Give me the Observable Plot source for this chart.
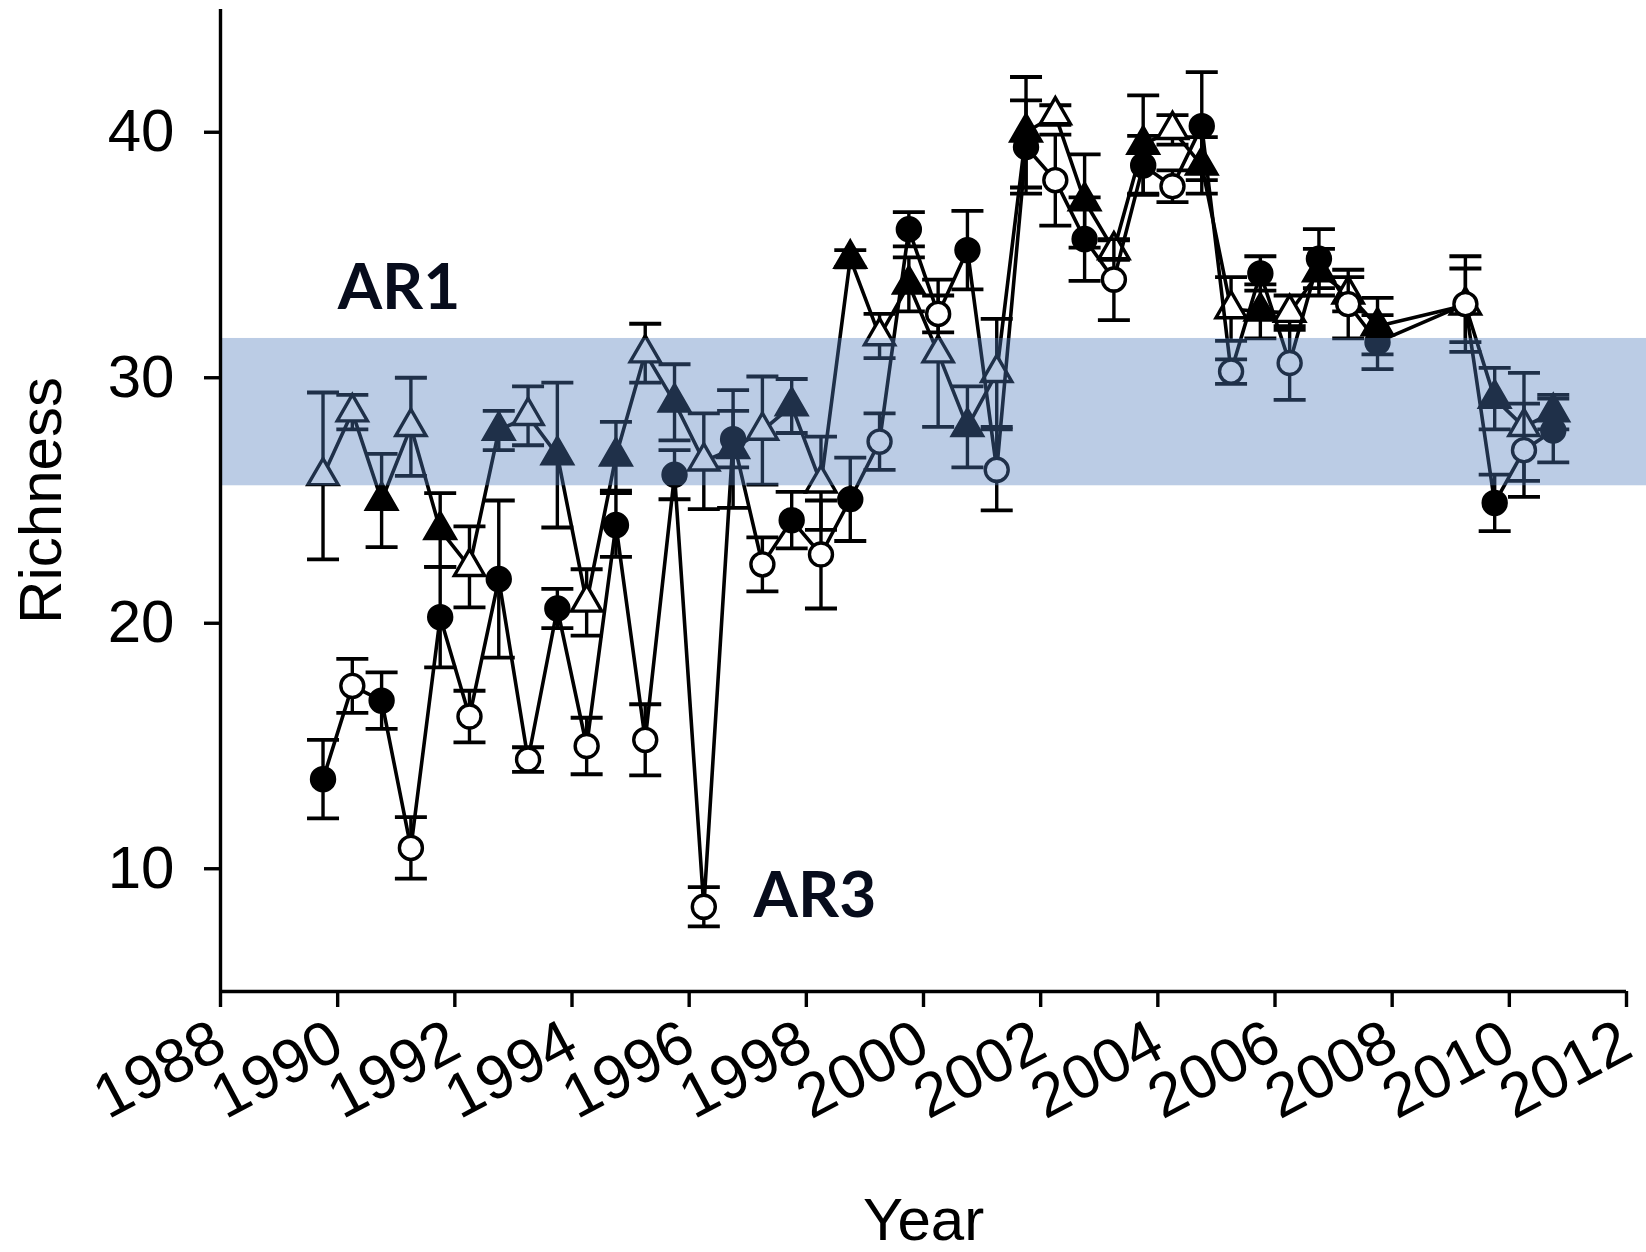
<!DOCTYPE html>
<html><head><meta charset="utf-8">
<script src="https://cdn.jsdelivr.net/npm/d3@7"></script>
<script src="https://cdn.jsdelivr.net/npm/@observablehq/plot@0.6"></script>
<style>html,body{margin:0;padding:0;background:#fff;} #chart svg{display:block}</style>
</head><body><div id="chart"></div>
<script>
// ---- data ----
const xTicks = [1988,1990,1992,1994,1996,1998,2000,2002,2004,2006,2008,2010,2012];
const yTicks = [10,20,30,40];

const sampleYear = [1989.75,1990.25,1990.75,1991.25,1991.75,1992.25,1992.75,1993.25,1993.75,1994.25,1994.75,1995.25,1995.75,1996.25,1996.75,1997.25,1997.75,1998.25,1998.75,1999.25,1999.75,2000.25,2000.75,2001.25,2001.75,2002.25,2002.75,2003.25,2003.75,2004.25,2004.75,2005.25,2005.75,2006.25,2006.75,2007.25,2007.75,2009.25,2009.75,2010.25,2010.75];

const ar3Mean = [13.65,17.45,16.85,10.85,20.25,16.2,21.8,14.45,20.6,15.0,24.0,15.25,26.05,8.45,27.5,22.4,24.2,22.8,25.05,27.4,36.05,32.6,35.2,26.25,39.4,38.05,35.65,34.0,38.65,37.8,40.25,30.25,34.25,30.6,34.85,33.0,31.45,33.0,24.9,27.05,27.85];
const ar3Err  = [1.6,1.1,1.15,1.25,2.05,1.05,3.2,0.5,0.8,1.15,1.3,1.45,1.0,0.8,1.15,1.1,1.15,2.2,1.7,1.15,0.7,0.75,1.6,1.65,1.9,1.85,1.7,1.65,1.2,0.65,2.2,0.5,0.7,1.5,1.2,1.4,1.1,1.95,1.15,1.9,1.3];
const ar3Filled = [1,0,1,0,1,0,1,0,1,0,1,0,1,0,1,0,1,0,1,0,1,0,1,0,1,0,1,0,1,0,1,0,1,0,1,0,1,0,1,0,1];

const ar1Mean = [26.0,28.6,25.0,28.0,23.8,22.3,27.85,28.45,26.85,20.85,26.8,31.0,29.0,26.6,27.1,27.85,28.85,25.7,34.85,31.7,33.8,31.0,28.0,30.2,40.0,40.7,37.2,35.2,39.5,40.1,38.65,32.8,32.7,32.65,34.3,33.4,32.1,32.95,29.15,28.0,28.6];
const ar1Err  = [3.4,0.7,1.9,2.0,1.5,1.65,0.8,1.2,2.95,1.35,1.4,1.2,1.55,1.95,2.4,2.2,1.1,1.9,0.35,0.9,1.1,3.0,1.65,2.2,2.25,0.4,1.9,0.4,2.0,0.6,1.15,1.3,1.1,0.7,0.95,0.7,1.15,1.5,1.25,2.2,0.7];
const ar1Filled = [0,0,1,0,1,0,1,0,1,0,1,0,1,0,1,0,1,0,1,0,1,0,1,0,1,0,1,0,1,0,1,0,1,0,1,0,1,0,1,0,1];

const bandLow = 25.6, bandHigh = 31.6;

const labelText = ["AR1", "AR3"];
const labelYear = [1990.0, 1997.1];
const labelRichness = [32.8, 8.05];

// ---- build ----
const ar1 = sampleYear.map((x, i) => ({x, v: ar1Mean[i], e: ar1Err[i], f: ar1Filled[i] === 1}));
const ar3 = sampleYear.map((x, i) => ({x, v: ar3Mean[i], e: ar3Err[i], f: ar3Filled[i] === 1}));
const labels = labelText.map((t, i) => ({t, x: labelYear[i], y: labelRichness[i]}));

const capSymbol = {draw(ctx, size) { const w = Math.sqrt(size / Math.PI); ctx.moveTo(-w, 0); ctx.lineTo(w, 0); }};

function seriesMarks(data, sym, r) {
  return [
    Plot.line(data, {x: "x", y: "v", stroke: "black", strokeWidth: 3.6, curve: "linear"}),
    Plot.ruleX(data, {x: "x", y1: d => d.v - d.e, y2: d => d.v + d.e, stroke: "black", strokeWidth: 3.4}),
    Plot.dot(data, {x: "x", y: d => d.v + d.e, symbol: capSymbol, r: 16, stroke: "black", strokeWidth: 3.8}),
    Plot.dot(data, {x: "x", y: d => d.v - d.e, symbol: capSymbol, r: 16, stroke: "black", strokeWidth: 3.8}),
    Plot.dot(data.filter(d => !d.f), {x: "x", y: "v", symbol: sym, r, fill: "white", stroke: "black", strokeWidth: 3.4}),
    Plot.dot(data.filter(d => d.f), {x: "x", y: "v", symbol: sym, r, fill: "black", stroke: "black", strokeWidth: 3.4})
  ];
}

const chart = Plot.plot({
  width: 1646,
  height: 1252,
  marginLeft: 220,
  marginRight: 20,
  marginTop: 9,
  marginBottom: 261,
  style: {fontFamily: "'Liberation Sans', Arial, sans-serif", fontSize: "58px", color: "black", background: "white"},
  x: {domain: [1988, 2012]},
  y: {domain: [5, 45]},
  marks: [
    ...seriesMarks(ar1, "triangle", 11.2),
    ...seriesMarks(ar3, "circle", 11.5),
    Plot.rect([{x1: 1988, x2: 2012.4, y1: bandLow, y2: bandHigh}], {x1: "x1", x2: "x2", y1: "y1", y2: "y2", fill: "rgb(80,124,188)", fillOpacity: 0.39}),
    Plot.ruleX([1988], {stroke: "black", strokeWidth: 3.4}),
    Plot.ruleY([5], {stroke: "black", strokeWidth: 3.4}),
    Plot.axisX({ticks: xTicks, tickFormat: "d", tickSize: 16, tickPadding: 30, tickRotate: -28, fontSize: 62, strokeWidth: 3.4, label: null}),
    Plot.axisY({ticks: yTicks, tickFormat: "d", tickSize: 16, tickPadding: 30, fontSize: 60, strokeWidth: 3.4, label: null}),
    Plot.text(labels, {x: "x", y: "y", text: "t", textAnchor: "start", lineAnchor: "bottom", fontFamily: "Lato, 'Open Sans', sans-serif", fontWeight: 700, fontSize: 64, fill: "#070c1c"}),
    Plot.text(["Year"], {frameAnchor: "bottom", dy: 248, lineAnchor: "bottom", textAnchor: "middle", text: d => d, fontSize: 60}),
    Plot.text(["Richness"], {frameAnchor: "left", dx: -160, rotate: -90, lineAnchor: "bottom", textAnchor: "middle", text: d => d, fontSize: 60})
  ]
});
document.getElementById("chart").appendChild(chart);
</script>
</body></html>
